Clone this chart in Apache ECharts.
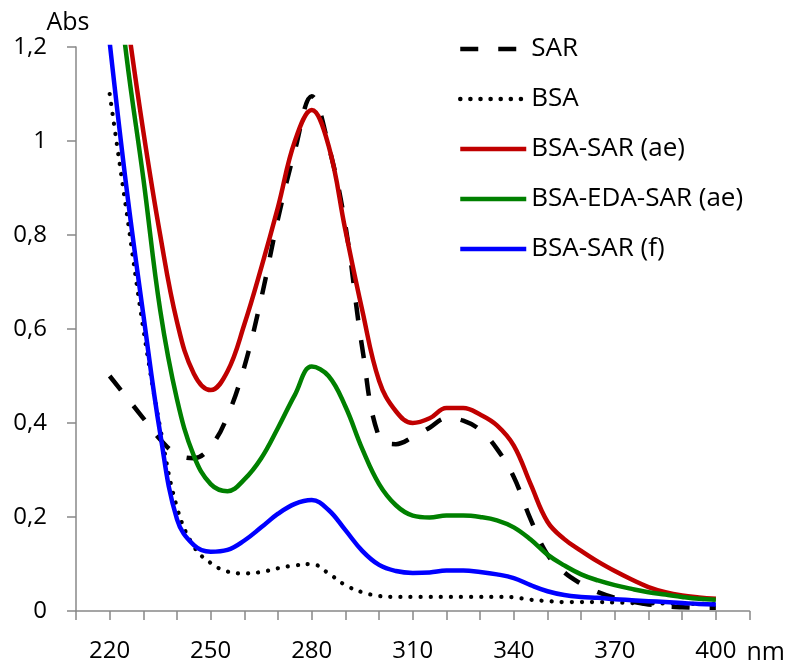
<!DOCTYPE html>
<html>
<head>
<meta charset="utf-8">
<script src="https://cdn.jsdelivr.net/npm/echarts@6/dist/echarts.min.js"></script>
<style>
html,body{margin:0;padding:0;background:#fff;}
#chart{width:788px;height:666px;}
</style>
</head>
<body>
<div id="chart"></div>
<script>
// Wavelengths (nm)
const wavelengths = [220,225,230,235,240,245,250,255,260,265,270,275,280,285,290,295,300,305,310,315,320,325,330,335,340,345,350,355,360,365,370,375,380,385,390,395,400];

const sar = [0.50,0.455,0.41,0.365,0.333,0.325,0.35,0.415,0.52,0.665,0.835,0.98,1.095,0.99,0.82,0.56,0.37,0.355,0.37,0.39,0.41,0.405,0.385,0.345,0.285,0.195,0.12,0.082,0.058,0.04,0.028,0.02,0.014,0.01,0.008,0.007,0.007];
const bsa = [1.10,0.85,0.60,0.39,0.22,0.137,0.102,0.084,0.080,0.083,0.091,0.097,0.100,0.080,0.055,0.040,0.032,0.030,0.030,0.030,0.030,0.030,0.030,0.030,0.029,0.024,0.021,0.019,0.019,0.019,0.018,0.017,0.016,0.016,0.015,0.015,0.015];
const bsaSarAe = [1.55,1.27,1.02,0.80,0.615,0.505,0.47,0.51,0.61,0.73,0.86,1.00,1.066,0.99,0.81,0.64,0.49,0.425,0.40,0.41,0.432,0.432,0.418,0.395,0.352,0.27,0.19,0.153,0.128,0.105,0.085,0.067,0.051,0.040,0.033,0.029,0.026];
const bsaEdaSarAe = [1.50,1.18,0.92,0.64,0.45,0.33,0.27,0.255,0.28,0.325,0.39,0.46,0.52,0.50,0.435,0.345,0.27,0.225,0.203,0.199,0.203,0.203,0.200,0.193,0.178,0.152,0.12,0.097,0.078,0.065,0.055,0.047,0.040,0.035,0.030,0.026,0.024];
const bsaSarF = [1.21,0.90,0.63,0.378,0.195,0.14,0.126,0.13,0.15,0.178,0.207,0.228,0.236,0.215,0.172,0.128,0.098,0.085,0.081,0.082,0.086,0.086,0.083,0.078,0.070,0.055,0.042,0.034,0.030,0.028,0.025,0.023,0.021,0.019,0.017,0.015,0.014];

const seriesNames = ['SAR','BSA','BSA-SAR (ae)','BSA-EDA-SAR (ae)','BSA-SAR (f)'];
const yTickLabels = ['0','0,2','0,4','0,6','0,8','1','1,2'];
const xTickLabels = ['220','250','280','310','340','370','400'];

const pairs = arr => wavelengths.map((w,i)=>[w,arr[i]]);
const FONT = '"Open Sans", "Noto Sans", sans-serif';

const chart = echarts.init(document.getElementById('chart'), null, {renderer:'canvas'});
const mk = (name, data, color, type, width, cap) => ({
  name, type:'line', data: pairs(data), smooth:0.4, showSymbol:false, symbol:'none',
  clip:true,
  lineStyle:{color, width, type, cap: cap||'butt'},
  itemStyle:{color},
  emphasis:{disabled:true}
});
chart.setOption({
  animation:false,
  backgroundColor:'#ffffff',
  grid:{left:76, right:36, top:47, bottom:55, containLabel:false},
  legend:{
    orient:'vertical', left:453, top:29,
    itemWidth:66, itemHeight:14, itemGap:20,
    itemStyle:{opacity:0},
    lineStyle:{width:4.5},
    textStyle:{fontFamily:FONT, fontSize:26, color:'#000', lineHeight:30},
    data:seriesNames
  },
  xAxis:{
    type:'value', min:210, max:410, interval:10,
    name:'nm', nameLocation:'end', nameGap:-3,
    nameTextStyle:{fontFamily:FONT, fontSize:25, color:'#000', verticalAlign:'top', padding:[29,0,0,0]},
    axisLine:{show:true, onZero:false, lineStyle:{color:'#888888', width:1.5}},
    axisTick:{show:true, length:9, inside:false, lineStyle:{color:'#888888', width:1.5}},
    axisLabel:{
      fontFamily:FONT, fontSize:24, color:'#000', margin:28,
      formatter: v => { const i = xTickLabels.indexOf(String(v)); return i>=0 ? xTickLabels[i] : ''; }
    },
    splitLine:{show:false}
  },
  yAxis:{
    type:'value', min:0, max:1.2, interval:0.2,
    name:'Abs', nameLocation:'end', nameGap:11,
    nameTextStyle:{fontFamily:FONT, fontSize:25, color:'#000', padding:[0,16,0,0]},
    axisLine:{show:true, onZero:false, lineStyle:{color:'#888888', width:1.5}},
    axisTick:{show:true, length:9, inside:false, lineStyle:{color:'#888888', width:1.5}},
    axisLabel:{
      fontFamily:FONT, fontSize:24, color:'#000', margin:29,
      formatter: v => yTickLabels[Math.round(v/0.2)]
    },
    splitLine:{show:false}
  },
  series:[
    mk(seriesNames[0], sar, '#000000', [18,20], 4.5),
    mk(seriesNames[1], bsa, '#000000', [0.1,10], 4.2, 'round'),
    mk(seriesNames[2], bsaSarAe, '#C00000', 'solid', 4.5),
    mk(seriesNames[3], bsaEdaSarAe, '#008000', 'solid', 4.5),
    mk(seriesNames[4], bsaSarF, '#0000FF', 'solid', 4.5)
  ]
});
</script>
</body>
</html>
